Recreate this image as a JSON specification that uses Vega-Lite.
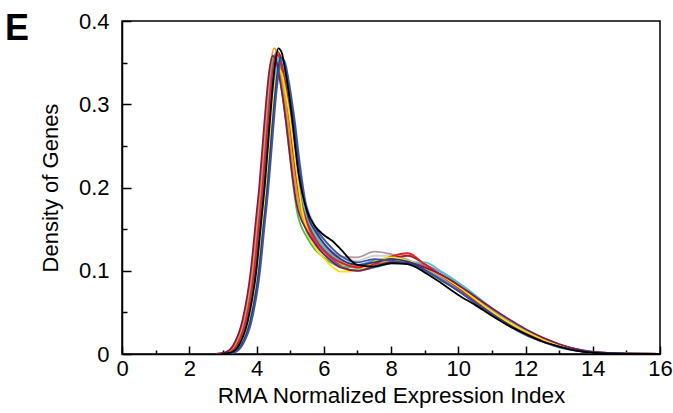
{
  "$schema": "https://vega.github.io/schema/vega-lite/v6.json",
  "width": 538,
  "height": 333,
  "autosize": {"type": "none"},
  "padding": {"left": 122, "top": 21, "right": 13, "bottom": 59},
  "background": "white",
  "config": {
    "view": {"stroke": "black", "strokeWidth": 1.5},
    "font": "Liberation Sans"
  },
  "title": {"text": "E", "anchor": "start", "frame": "group", "fontSize": 36, "fontWeight": "bold", "font": "Liberation Sans", "color": "black", "dx": -117, "dy": 66, "baseline": "alphabetic", "offset": 0},
  "data": {"values": [
    {"s":"j","x":3.0,"y":0},{"s":"j","x":3.3,"y":0.002},{"s":"j","x":3.55,"y":0.012},{"s":"j","x":3.8,"y":0.039},{"s":"j","x":4.05,"y":0.098},{"s":"j","x":4.2,"y":0.157},{"s":"j","x":4.3,"y":0.196},{"s":"j","x":4.4,"y":0.245},{"s":"j","x":4.5,"y":0.294},{"s":"j","x":4.6,"y":0.333},{"s":"j","x":4.7,"y":0.353},{"s":"j","x":4.8,"y":0.348},{"s":"j","x":4.9,"y":0.33},{"s":"j","x":5.0,"y":0.306},{"s":"j","x":5.1,"y":0.278},{"s":"j","x":5.2,"y":0.245},{"s":"j","x":5.3,"y":0.214},{"s":"j","x":5.4,"y":0.19},
    {"s":"j","x":5.5,"y":0.177},{"s":"j","x":5.75,"y":0.153},{"s":"j","x":6,"y":0.137},{"s":"j","x":6.25,"y":0.126},{"s":"j","x":6.5,"y":0.118},{"s":"j","x":7,"y":0.112},{"s":"j","x":7.5,"y":0.118},{"s":"j","x":8,"y":0.118},{"s":"j","x":8.5,"y":0.112},{"s":"j","x":9,"y":0.102},{"s":"j","x":9.5,"y":0.09},{"s":"j","x":10,"y":0.077},{"s":"j","x":10.5,"y":0.063},{"s":"j","x":11,"y":0.049},{"s":"j","x":11.5,"y":0.036},{"s":"j","x":12,"y":0.025},{"s":"j","x":12.5,"y":0.016},{"s":"j","x":13,"y":0.009},{"s":"j","x":13.5,"y":0.0045},{"s":"j","x":14,"y":0.0018},{"s":"j","x":15,"y":0.0003},{"s":"j","x":16,"y":0},

    {"s":"n","x":2.9,"y":0},{"s":"n","x":3.2,"y":0.002},{"s":"n","x":3.45,"y":0.012},{"s":"n","x":3.7,"y":0.04},{"s":"n","x":3.95,"y":0.101},{"s":"n","x":4.1,"y":0.162},{"s":"n","x":4.2,"y":0.202},{"s":"n","x":4.3,"y":0.253},{"s":"n","x":4.4,"y":0.303},{"s":"n","x":4.5,"y":0.343},{"s":"n","x":4.6,"y":0.364},{"s":"n","x":4.7,"y":0.358},{"s":"n","x":4.8,"y":0.338},{"s":"n","x":4.9,"y":0.313},{"s":"n","x":5.0,"y":0.283},{"s":"n","x":5.1,"y":0.247},{"s":"n","x":5.2,"y":0.215},{"s":"n","x":5.3,"y":0.189},
    {"s":"n","x":5.5,"y":0.164},{"s":"n","x":5.75,"y":0.145},{"s":"n","x":6,"y":0.131},{"s":"n","x":6.25,"y":0.121},{"s":"n","x":6.5,"y":0.113},{"s":"n","x":7,"y":0.105},{"s":"n","x":7.5,"y":0.107},{"s":"n","x":8,"y":0.111},{"s":"n","x":8.5,"y":0.11},{"s":"n","x":9,"y":0.102},{"s":"n","x":9.5,"y":0.091},{"s":"n","x":10,"y":0.078},{"s":"n","x":10.5,"y":0.063},{"s":"n","x":11,"y":0.049},{"s":"n","x":11.5,"y":0.036},{"s":"n","x":12,"y":0.025},{"s":"n","x":12.5,"y":0.016},{"s":"n","x":13,"y":0.009},{"s":"n","x":13.5,"y":0.0045},{"s":"n","x":14,"y":0.0018},{"s":"n","x":15,"y":0.0003},{"s":"n","x":16,"y":0},

    {"s":"o","x":2.84,"y":0},{"s":"o","x":3.14,"y":0.002},{"s":"o","x":3.39,"y":0.012},{"s":"o","x":3.64,"y":0.039},{"s":"o","x":3.89,"y":0.098},{"s":"o","x":4.04,"y":0.157},{"s":"o","x":4.14,"y":0.196},{"s":"o","x":4.24,"y":0.245},{"s":"o","x":4.34,"y":0.294},{"s":"o","x":4.44,"y":0.333},{"s":"o","x":4.54,"y":0.353},{"s":"o","x":4.64,"y":0.348},{"s":"o","x":4.74,"y":0.328},{"s":"o","x":4.84,"y":0.304},{"s":"o","x":4.94,"y":0.274},{"s":"o","x":5.04,"y":0.24},{"s":"o","x":5.14,"y":0.209},{"s":"o","x":5.24,"y":0.183},
    {"s":"o","x":5.5,"y":0.153},{"s":"o","x":5.75,"y":0.136},{"s":"o","x":6,"y":0.125},{"s":"o","x":6.25,"y":0.117},{"s":"o","x":6.5,"y":0.111},{"s":"o","x":7,"y":0.107},{"s":"o","x":7.5,"y":0.112},{"s":"o","x":8,"y":0.114},{"s":"o","x":8.5,"y":0.11},{"s":"o","x":9,"y":0.102},{"s":"o","x":9.5,"y":0.092},{"s":"o","x":10,"y":0.08},{"s":"o","x":10.5,"y":0.066},{"s":"o","x":11,"y":0.052},{"s":"o","x":11.5,"y":0.039},{"s":"o","x":12,"y":0.028},{"s":"o","x":12.5,"y":0.018},{"s":"o","x":13,"y":0.011},{"s":"o","x":13.5,"y":0.0055},{"s":"o","x":14,"y":0.0022},{"s":"o","x":15,"y":0.0003},{"s":"o","x":16,"y":0},

    {"s":"q","x":2.86,"y":0},{"s":"q","x":3.16,"y":0.002},{"s":"q","x":3.41,"y":0.012},{"s":"q","x":3.66,"y":0.04},{"s":"q","x":3.91,"y":0.1},{"s":"q","x":4.06,"y":0.16},{"s":"q","x":4.16,"y":0.2},{"s":"q","x":4.26,"y":0.25},{"s":"q","x":4.36,"y":0.3},{"s":"q","x":4.46,"y":0.34},{"s":"q","x":4.56,"y":0.36},{"s":"q","x":4.66,"y":0.354},{"s":"q","x":4.76,"y":0.333},{"s":"q","x":4.86,"y":0.307},{"s":"q","x":4.96,"y":0.276},{"s":"q","x":5.06,"y":0.24},{"s":"q","x":5.16,"y":0.207},{"s":"q","x":5.26,"y":0.18},
    {"s":"q","x":5.5,"y":0.146},{"s":"q","x":5.75,"y":0.13},{"s":"q","x":6,"y":0.12},{"s":"q","x":6.25,"y":0.113},{"s":"q","x":6.5,"y":0.108},{"s":"q","x":7,"y":0.106},{"s":"q","x":7.5,"y":0.11},{"s":"q","x":8,"y":0.114},{"s":"q","x":8.5,"y":0.112},{"s":"q","x":9,"y":0.104},{"s":"q","x":9.5,"y":0.093},{"s":"q","x":10,"y":0.08},{"s":"q","x":10.5,"y":0.066},{"s":"q","x":11,"y":0.052},{"s":"q","x":11.5,"y":0.039},{"s":"q","x":12,"y":0.028},{"s":"q","x":12.5,"y":0.019},{"s":"q","x":13,"y":0.011},{"s":"q","x":13.5,"y":0.006},{"s":"q","x":14,"y":0.0024},{"s":"q","x":15,"y":0.0004},{"s":"q","x":16,"y":0},

    {"s":"l","x":2.85,"y":0},{"s":"l","x":3.15,"y":0.002},{"s":"l","x":3.4,"y":0.012},{"s":"l","x":3.65,"y":0.04},{"s":"l","x":3.9,"y":0.1},{"s":"l","x":4.05,"y":0.16},{"s":"l","x":4.15,"y":0.2},{"s":"l","x":4.25,"y":0.25},{"s":"l","x":4.35,"y":0.3},{"s":"l","x":4.45,"y":0.34},{"s":"l","x":4.55,"y":0.36},{"s":"l","x":4.65,"y":0.355},{"s":"l","x":4.75,"y":0.335},{"s":"l","x":4.85,"y":0.31},{"s":"l","x":4.95,"y":0.28},{"s":"l","x":5.05,"y":0.245},{"s":"l","x":5.15,"y":0.213},{"s":"l","x":5.25,"y":0.187},
    {"s":"l","x":5.5,"y":0.152},{"s":"l","x":5.75,"y":0.135},{"s":"l","x":6,"y":0.124},{"s":"l","x":6.25,"y":0.116},{"s":"l","x":6.5,"y":0.11},{"s":"l","x":7,"y":0.106},{"s":"l","x":7.5,"y":0.111},{"s":"l","x":8,"y":0.115},{"s":"l","x":8.5,"y":0.112},{"s":"l","x":9,"y":0.103},{"s":"l","x":9.5,"y":0.092},{"s":"l","x":10,"y":0.079},{"s":"l","x":10.5,"y":0.065},{"s":"l","x":11,"y":0.051},{"s":"l","x":11.5,"y":0.038},{"s":"l","x":12,"y":0.027},{"s":"l","x":12.5,"y":0.018},{"s":"l","x":13,"y":0.01},{"s":"l","x":13.5,"y":0.005},{"s":"l","x":14,"y":0.002},{"s":"l","x":15,"y":0.0003},{"s":"l","x":16,"y":0},

    {"s":"m","x":2.94,"y":0},{"s":"m","x":3.24,"y":0.002},{"s":"m","x":3.49,"y":0.012},{"s":"m","x":3.74,"y":0.039},{"s":"m","x":3.99,"y":0.098},{"s":"m","x":4.14,"y":0.158},{"s":"m","x":4.24,"y":0.197},{"s":"m","x":4.34,"y":0.246},{"s":"m","x":4.44,"y":0.296},{"s":"m","x":4.54,"y":0.335},{"s":"m","x":4.64,"y":0.355},{"s":"m","x":4.74,"y":0.35},{"s":"m","x":4.84,"y":0.33},{"s":"m","x":4.94,"y":0.305},{"s":"m","x":5.04,"y":0.276},{"s":"m","x":5.14,"y":0.241},{"s":"m","x":5.24,"y":0.21},{"s":"m","x":5.34,"y":0.185},
    {"s":"m","x":5.5,"y":0.16},{"s":"m","x":5.75,"y":0.142},{"s":"m","x":6,"y":0.129},{"s":"m","x":6.25,"y":0.12},{"s":"m","x":6.5,"y":0.113},{"s":"m","x":7,"y":0.105},{"s":"m","x":7.5,"y":0.106},{"s":"m","x":8,"y":0.11},{"s":"m","x":8.5,"y":0.111},{"s":"m","x":9,"y":0.107},{"s":"m","x":9.5,"y":0.098},{"s":"m","x":10,"y":0.084},{"s":"m","x":10.5,"y":0.068},{"s":"m","x":11,"y":0.052},{"s":"m","x":11.5,"y":0.038},{"s":"m","x":12,"y":0.027},{"s":"m","x":12.5,"y":0.018},{"s":"m","x":13,"y":0.01},{"s":"m","x":13.5,"y":0.005},{"s":"m","x":14,"y":0.002},{"s":"m","x":15,"y":0.0003},{"s":"m","x":16,"y":0},

    {"s":"k","x":2.92,"y":0},{"s":"k","x":3.22,"y":0.002},{"s":"k","x":3.47,"y":0.012},{"s":"k","x":3.72,"y":0.04},{"s":"k","x":3.97,"y":0.099},{"s":"k","x":4.12,"y":0.158},{"s":"k","x":4.22,"y":0.198},{"s":"k","x":4.32,"y":0.248},{"s":"k","x":4.42,"y":0.297},{"s":"k","x":4.52,"y":0.337},{"s":"k","x":4.62,"y":0.356},{"s":"k","x":4.72,"y":0.351},{"s":"k","x":4.82,"y":0.332},{"s":"k","x":4.92,"y":0.307},{"s":"k","x":5.02,"y":0.277},{"s":"k","x":5.12,"y":0.243},{"s":"k","x":5.22,"y":0.211},{"s":"k","x":5.32,"y":0.186},
    {"s":"k","x":5.5,"y":0.163},{"s":"k","x":5.75,"y":0.144},{"s":"k","x":6,"y":0.132},{"s":"k","x":6.25,"y":0.123},{"s":"k","x":6.5,"y":0.117},{"s":"k","x":7,"y":0.116},{"s":"k","x":7.5,"y":0.123},{"s":"k","x":8,"y":0.12},{"s":"k","x":8.5,"y":0.113},{"s":"k","x":9,"y":0.103},{"s":"k","x":9.5,"y":0.091},{"s":"k","x":10,"y":0.078},{"s":"k","x":10.5,"y":0.063},{"s":"k","x":11,"y":0.049},{"s":"k","x":11.5,"y":0.036},{"s":"k","x":12,"y":0.025},{"s":"k","x":12.5,"y":0.016},{"s":"k","x":13,"y":0.009},{"s":"k","x":13.5,"y":0.0045},{"s":"k","x":14,"y":0.0018},{"s":"k","x":15,"y":0.0003},{"s":"k","x":16,"y":0},

    {"s":"g","x":2.88,"y":0},{"s":"g","x":3.18,"y":0.002},{"s":"g","x":3.43,"y":0.012},{"s":"g","x":3.68,"y":0.04},{"s":"g","x":3.93,"y":0.1},{"s":"g","x":4.08,"y":0.16},{"s":"g","x":4.18,"y":0.2},{"s":"g","x":4.28,"y":0.25},{"s":"g","x":4.38,"y":0.3},{"s":"g","x":4.48,"y":0.34},{"s":"g","x":4.58,"y":0.36},{"s":"g","x":4.68,"y":0.355},{"s":"g","x":4.78,"y":0.335},{"s":"g","x":4.88,"y":0.31},{"s":"g","x":4.98,"y":0.28},{"s":"g","x":5.08,"y":0.245},{"s":"g","x":5.18,"y":0.213},{"s":"g","x":5.28,"y":0.185},
    {"s":"g","x":5.5,"y":0.155},{"s":"g","x":5.75,"y":0.136},{"s":"g","x":6,"y":0.124},{"s":"g","x":6.25,"y":0.114},{"s":"g","x":6.5,"y":0.106},{"s":"g","x":7,"y":0.1},{"s":"g","x":7.5,"y":0.104},{"s":"g","x":8,"y":0.11},{"s":"g","x":8.5,"y":0.109},{"s":"g","x":9,"y":0.105},{"s":"g","x":9.5,"y":0.095},{"s":"g","x":10,"y":0.081},{"s":"g","x":10.5,"y":0.066},{"s":"g","x":11,"y":0.051},{"s":"g","x":11.5,"y":0.038},{"s":"g","x":12,"y":0.027},{"s":"g","x":12.5,"y":0.018},{"s":"g","x":13,"y":0.011},{"s":"g","x":13.5,"y":0.006},{"s":"g","x":14,"y":0.0025},{"s":"g","x":15,"y":0.0004},{"s":"g","x":16,"y":0},

    {"s":"i","x":2.8,"y":0},{"s":"i","x":3.1,"y":0.002},{"s":"i","x":3.35,"y":0.012},{"s":"i","x":3.6,"y":0.04},{"s":"i","x":3.85,"y":0.099},{"s":"i","x":4.0,"y":0.158},{"s":"i","x":4.1,"y":0.198},{"s":"i","x":4.2,"y":0.248},{"s":"i","x":4.3,"y":0.297},{"s":"i","x":4.4,"y":0.337},{"s":"i","x":4.5,"y":0.356},{"s":"i","x":4.6,"y":0.35},{"s":"i","x":4.7,"y":0.33},{"s":"i","x":4.8,"y":0.303},{"s":"i","x":4.9,"y":0.27},{"s":"i","x":5.0,"y":0.235},{"s":"i","x":5.1,"y":0.2},{"s":"i","x":5.2,"y":0.172},
    {"s":"i","x":5.5,"y":0.14},{"s":"i","x":5.75,"y":0.125},{"s":"i","x":6,"y":0.116},{"s":"i","x":6.25,"y":0.109},{"s":"i","x":6.5,"y":0.105},{"s":"i","x":7,"y":0.104},{"s":"i","x":7.5,"y":0.109},{"s":"i","x":8,"y":0.112},{"s":"i","x":8.5,"y":0.11},{"s":"i","x":9,"y":0.1},{"s":"i","x":9.5,"y":0.088},{"s":"i","x":10,"y":0.076},{"s":"i","x":10.5,"y":0.062},{"s":"i","x":11,"y":0.049},{"s":"i","x":11.5,"y":0.036},{"s":"i","x":12,"y":0.025},{"s":"i","x":12.5,"y":0.017},{"s":"i","x":13,"y":0.01},{"s":"i","x":13.5,"y":0.005},{"s":"i","x":14,"y":0.002},{"s":"i","x":15,"y":0.0003},{"s":"i","x":16,"y":0},

    {"s":"r","x":2.92,"y":0},{"s":"r","x":3.22,"y":0.002},{"s":"r","x":3.47,"y":0.012},{"s":"r","x":3.72,"y":0.04},{"s":"r","x":3.97,"y":0.1},{"s":"r","x":4.12,"y":0.161},{"s":"r","x":4.22,"y":0.201},{"s":"r","x":4.32,"y":0.251},{"s":"r","x":4.42,"y":0.301},{"s":"r","x":4.52,"y":0.342},{"s":"r","x":4.62,"y":0.362},{"s":"r","x":4.72,"y":0.357},{"s":"r","x":4.82,"y":0.337},{"s":"r","x":4.92,"y":0.312},{"s":"r","x":5.02,"y":0.282},{"s":"r","x":5.12,"y":0.247},{"s":"r","x":5.22,"y":0.215},{"s":"r","x":5.32,"y":0.189},
    {"s":"r","x":5.5,"y":0.16},{"s":"r","x":5.75,"y":0.14},{"s":"r","x":6,"y":0.127},{"s":"r","x":6.25,"y":0.118},{"s":"r","x":6.5,"y":0.111},{"s":"r","x":7,"y":0.105},{"s":"r","x":7.5,"y":0.109},{"s":"r","x":8,"y":0.115},{"s":"r","x":8.5,"y":0.118},{"s":"r","x":9,"y":0.108},{"s":"r","x":9.5,"y":0.094},{"s":"r","x":10,"y":0.08},{"s":"r","x":10.5,"y":0.065},{"s":"r","x":11,"y":0.05},{"s":"r","x":11.5,"y":0.037},{"s":"r","x":12,"y":0.026},{"s":"r","x":12.5,"y":0.017},{"s":"r","x":13,"y":0.01},{"s":"r","x":13.5,"y":0.005},{"s":"r","x":14,"y":0.002},{"s":"r","x":15,"y":0.0003},{"s":"r","x":16,"y":0},

    {"s":"e","x":2.82,"y":0},{"s":"e","x":3.12,"y":0.002},{"s":"e","x":3.37,"y":0.012},{"s":"e","x":3.62,"y":0.041},{"s":"e","x":3.87,"y":0.102},{"s":"e","x":4.02,"y":0.163},{"s":"e","x":4.12,"y":0.204},{"s":"e","x":4.22,"y":0.255},{"s":"e","x":4.32,"y":0.306},{"s":"e","x":4.42,"y":0.347},{"s":"e","x":4.52,"y":0.367},{"s":"e","x":4.62,"y":0.362},{"s":"e","x":4.72,"y":0.342},{"s":"e","x":4.82,"y":0.316},{"s":"e","x":4.92,"y":0.286},{"s":"e","x":5.02,"y":0.25},{"s":"e","x":5.12,"y":0.217},{"s":"e","x":5.22,"y":0.19},
    {"s":"e","x":5.5,"y":0.155},{"s":"e","x":5.75,"y":0.138},{"s":"e","x":6,"y":0.126},{"s":"e","x":6.25,"y":0.118},{"s":"e","x":6.5,"y":0.112},{"s":"e","x":7,"y":0.106},{"s":"e","x":7.5,"y":0.109},{"s":"e","x":8,"y":0.112},{"s":"e","x":8.5,"y":0.111},{"s":"e","x":9,"y":0.104},{"s":"e","x":9.5,"y":0.094},{"s":"e","x":10,"y":0.083},{"s":"e","x":10.5,"y":0.069},{"s":"e","x":11,"y":0.055},{"s":"e","x":11.5,"y":0.041},{"s":"e","x":12,"y":0.029},{"s":"e","x":12.5,"y":0.019},{"s":"e","x":13,"y":0.011},{"s":"e","x":13.5,"y":0.005},{"s":"e","x":14,"y":0.002},{"s":"e","x":15,"y":0.0003},{"s":"e","x":16,"y":0},

    {"s":"f","x":2.98,"y":0},{"s":"f","x":3.28,"y":0.002},{"s":"f","x":3.53,"y":0.012},{"s":"f","x":3.78,"y":0.04},{"s":"f","x":4.03,"y":0.099},{"s":"f","x":4.18,"y":0.158},{"s":"f","x":4.28,"y":0.198},{"s":"f","x":4.38,"y":0.248},{"s":"f","x":4.48,"y":0.297},{"s":"f","x":4.58,"y":0.337},{"s":"f","x":4.68,"y":0.356},{"s":"f","x":4.78,"y":0.351},{"s":"f","x":4.88,"y":0.332},{"s":"f","x":4.98,"y":0.307},{"s":"f","x":5.08,"y":0.277},{"s":"f","x":5.18,"y":0.243},{"s":"f","x":5.28,"y":0.211},{"s":"f","x":5.38,"y":0.183},
    {"s":"f","x":5.5,"y":0.165},{"s":"f","x":5.75,"y":0.143},{"s":"f","x":6,"y":0.128},{"s":"f","x":6.25,"y":0.118},{"s":"f","x":6.5,"y":0.111},{"s":"f","x":7,"y":0.103},{"s":"f","x":7.5,"y":0.104},{"s":"f","x":8,"y":0.109},{"s":"f","x":8.5,"y":0.11},{"s":"f","x":9,"y":0.11},{"s":"f","x":9.5,"y":0.099},{"s":"f","x":10,"y":0.086},{"s":"f","x":10.5,"y":0.071},{"s":"f","x":11,"y":0.055},{"s":"f","x":11.5,"y":0.041},{"s":"f","x":12,"y":0.029},{"s":"f","x":12.5,"y":0.019},{"s":"f","x":13,"y":0.011},{"s":"f","x":13.5,"y":0.005},{"s":"f","x":14,"y":0.002},{"s":"f","x":15,"y":0.0003},{"s":"f","x":16,"y":0},

    {"s":"c","x":2.9,"y":0},{"s":"c","x":3.2,"y":0.002},{"s":"c","x":3.45,"y":0.012},{"s":"c","x":3.7,"y":0.04},{"s":"c","x":3.95,"y":0.1},{"s":"c","x":4.1,"y":0.16},{"s":"c","x":4.2,"y":0.2},{"s":"c","x":4.3,"y":0.25},{"s":"c","x":4.4,"y":0.3},{"s":"c","x":4.5,"y":0.34},{"s":"c","x":4.6,"y":0.36},{"s":"c","x":4.7,"y":0.355},{"s":"c","x":4.8,"y":0.335},{"s":"c","x":4.9,"y":0.31},{"s":"c","x":5.0,"y":0.28},{"s":"c","x":5.1,"y":0.245},{"s":"c","x":5.2,"y":0.213},{"s":"c","x":5.3,"y":0.187},
    {"s":"c","x":5.5,"y":0.158},{"s":"c","x":5.75,"y":0.138},{"s":"c","x":6,"y":0.125},{"s":"c","x":6.25,"y":0.116},{"s":"c","x":6.5,"y":0.11},{"s":"c","x":7,"y":0.104},{"s":"c","x":7.5,"y":0.108},{"s":"c","x":8,"y":0.117},{"s":"c","x":8.5,"y":0.121},{"s":"c","x":9,"y":0.108},{"s":"c","x":9.5,"y":0.094},{"s":"c","x":10,"y":0.08},{"s":"c","x":10.5,"y":0.065},{"s":"c","x":11,"y":0.05},{"s":"c","x":11.5,"y":0.037},{"s":"c","x":12,"y":0.026},{"s":"c","x":12.5,"y":0.017},{"s":"c","x":13,"y":0.01},{"s":"c","x":13.5,"y":0.005},{"s":"c","x":14,"y":0.002},{"s":"c","x":15,"y":0.0003},{"s":"c","x":16,"y":0},

    {"s":"d","x":2.95,"y":0},{"s":"d","x":3.25,"y":0.002},{"s":"d","x":3.5,"y":0.011},{"s":"d","x":3.75,"y":0.038},{"s":"d","x":4.0,"y":0.095},{"s":"d","x":4.15,"y":0.152},{"s":"d","x":4.25,"y":0.19},{"s":"d","x":4.35,"y":0.238},{"s":"d","x":4.45,"y":0.285},{"s":"d","x":4.55,"y":0.323},{"s":"d","x":4.65,"y":0.342},{"s":"d","x":4.75,"y":0.337},{"s":"d","x":4.85,"y":0.318},{"s":"d","x":4.95,"y":0.295},{"s":"d","x":5.05,"y":0.266},{"s":"d","x":5.15,"y":0.233},{"s":"d","x":5.25,"y":0.202},{"s":"d","x":5.35,"y":0.175},
    {"s":"d","x":5.5,"y":0.15},{"s":"d","x":5.75,"y":0.128},{"s":"d","x":6,"y":0.115},{"s":"d","x":6.25,"y":0.105},{"s":"d","x":6.5,"y":0.099},{"s":"d","x":7,"y":0.1},{"s":"d","x":7.5,"y":0.111},{"s":"d","x":8,"y":0.116},{"s":"d","x":8.5,"y":0.112},{"s":"d","x":9,"y":0.104},{"s":"d","x":9.5,"y":0.094},{"s":"d","x":10,"y":0.081},{"s":"d","x":10.5,"y":0.066},{"s":"d","x":11,"y":0.051},{"s":"d","x":11.5,"y":0.038},{"s":"d","x":12,"y":0.027},{"s":"d","x":12.5,"y":0.018},{"s":"d","x":13,"y":0.01},{"s":"d","x":13.5,"y":0.005},{"s":"d","x":14,"y":0.002},{"s":"d","x":15,"y":0.0003},{"s":"d","x":16,"y":0},

    {"s":"h","x":2.78,"y":0},{"s":"h","x":3.08,"y":0.002},{"s":"h","x":3.33,"y":0.012},{"s":"h","x":3.58,"y":0.04},{"s":"h","x":3.83,"y":0.1},{"s":"h","x":3.98,"y":0.16},{"s":"h","x":4.08,"y":0.2},{"s":"h","x":4.18,"y":0.25},{"s":"h","x":4.28,"y":0.3},{"s":"h","x":4.38,"y":0.34},{"s":"h","x":4.48,"y":0.358},{"s":"h","x":4.58,"y":0.353},{"s":"h","x":4.68,"y":0.333},{"s":"h","x":4.78,"y":0.308},{"s":"h","x":4.88,"y":0.278},{"s":"h","x":4.98,"y":0.243},{"s":"h","x":5.08,"y":0.21},{"s":"h","x":5.18,"y":0.183},
    {"s":"h","x":5.5,"y":0.148},{"s":"h","x":5.75,"y":0.132},{"s":"h","x":6,"y":0.12},{"s":"h","x":6.25,"y":0.111},{"s":"h","x":6.5,"y":0.104},{"s":"h","x":7,"y":0.1},{"s":"h","x":7.5,"y":0.105},{"s":"h","x":8,"y":0.11},{"s":"h","x":8.5,"y":0.11},{"s":"h","x":9,"y":0.104},{"s":"h","x":9.5,"y":0.095},{"s":"h","x":10,"y":0.083},{"s":"h","x":10.5,"y":0.069},{"s":"h","x":11,"y":0.055},{"s":"h","x":11.5,"y":0.042},{"s":"h","x":12,"y":0.03},{"s":"h","x":12.5,"y":0.02},{"s":"h","x":13,"y":0.012},{"s":"h","x":13.5,"y":0.006},{"s":"h","x":14,"y":0.0025},{"s":"h","x":15,"y":0.0004},{"s":"h","x":16,"y":0},

    {"s":"p","x":3.02,"y":0},{"s":"p","x":3.32,"y":0.002},{"s":"p","x":3.57,"y":0.012},{"s":"p","x":3.82,"y":0.04},{"s":"p","x":4.07,"y":0.099},{"s":"p","x":4.22,"y":0.158},{"s":"p","x":4.32,"y":0.198},{"s":"p","x":4.42,"y":0.248},{"s":"p","x":4.52,"y":0.297},{"s":"p","x":4.62,"y":0.337},{"s":"p","x":4.72,"y":0.356},{"s":"p","x":4.82,"y":0.351},{"s":"p","x":4.92,"y":0.332},{"s":"p","x":5.02,"y":0.307},{"s":"p","x":5.12,"y":0.277},{"s":"p","x":5.22,"y":0.243},{"s":"p","x":5.32,"y":0.211},{"s":"p","x":5.42,"y":0.186},
    {"s":"p","x":5.5,"y":0.17},{"s":"p","x":5.75,"y":0.148},{"s":"p","x":6,"y":0.133},{"s":"p","x":6.25,"y":0.122},{"s":"p","x":6.5,"y":0.114},{"s":"p","x":7,"y":0.107},{"s":"p","x":7.5,"y":0.11},{"s":"p","x":8,"y":0.114},{"s":"p","x":8.5,"y":0.111},{"s":"p","x":9,"y":0.101},{"s":"p","x":9.5,"y":0.089},{"s":"p","x":10,"y":0.076},{"s":"p","x":10.5,"y":0.062},{"s":"p","x":11,"y":0.048},{"s":"p","x":11.5,"y":0.035},{"s":"p","x":12,"y":0.024},{"s":"p","x":12.5,"y":0.015},{"s":"p","x":13,"y":0.009},{"s":"p","x":13.5,"y":0.0045},{"s":"p","x":14,"y":0.0018},{"s":"p","x":15,"y":0.0003},{"s":"p","x":16,"y":0},

    {"s":"b","x":3.05,"y":0},{"s":"b","x":3.35,"y":0.002},{"s":"b","x":3.6,"y":0.012},{"s":"b","x":3.85,"y":0.039},{"s":"b","x":4.1,"y":0.098},{"s":"b","x":4.25,"y":0.158},{"s":"b","x":4.35,"y":0.197},{"s":"b","x":4.45,"y":0.246},{"s":"b","x":4.55,"y":0.296},{"s":"b","x":4.65,"y":0.335},{"s":"b","x":4.75,"y":0.355},{"s":"b","x":4.85,"y":0.35},{"s":"b","x":4.95,"y":0.33},{"s":"b","x":5.05,"y":0.305},{"s":"b","x":5.15,"y":0.276},{"s":"b","x":5.25,"y":0.241},{"s":"b","x":5.35,"y":0.21},{"s":"b","x":5.45,"y":0.184},
    {"s":"b","x":5.5,"y":0.175},{"s":"b","x":5.75,"y":0.152},{"s":"b","x":6,"y":0.138},{"s":"b","x":6.25,"y":0.127},{"s":"b","x":6.5,"y":0.118},{"s":"b","x":7,"y":0.11},{"s":"b","x":7.5,"y":0.114},{"s":"b","x":8,"y":0.112},{"s":"b","x":8.5,"y":0.108},{"s":"b","x":9,"y":0.1},{"s":"b","x":9.5,"y":0.089},{"s":"b","x":10,"y":0.076},{"s":"b","x":10.5,"y":0.061},{"s":"b","x":11,"y":0.047},{"s":"b","x":11.5,"y":0.034},{"s":"b","x":12,"y":0.023},{"s":"b","x":12.5,"y":0.015},{"s":"b","x":13,"y":0.008},{"s":"b","x":13.5,"y":0.004},{"s":"b","x":14,"y":0.0015},{"s":"b","x":15,"y":0.0002},{"s":"b","x":16,"y":0},

    {"s":"a","x":2.95,"y":0},{"s":"a","x":3.25,"y":0.002},{"s":"a","x":3.5,"y":0.012},{"s":"a","x":3.75,"y":0.041},{"s":"a","x":4.0,"y":0.102},{"s":"a","x":4.15,"y":0.163},{"s":"a","x":4.25,"y":0.204},{"s":"a","x":4.35,"y":0.255},{"s":"a","x":4.45,"y":0.306},{"s":"a","x":4.55,"y":0.347},{"s":"a","x":4.65,"y":0.367},{"s":"a","x":4.75,"y":0.362},{"s":"a","x":4.85,"y":0.342},{"s":"a","x":4.95,"y":0.316},{"s":"a","x":5.05,"y":0.286},{"s":"a","x":5.15,"y":0.25},{"s":"a","x":5.25,"y":0.217},{"s":"a","x":5.35,"y":0.195},
    {"s":"a","x":5.5,"y":0.172},{"s":"a","x":5.75,"y":0.153},{"s":"a","x":6,"y":0.143},{"s":"a","x":6.25,"y":0.136},{"s":"a","x":6.5,"y":0.126},{"s":"a","x":7,"y":0.107},{"s":"a","x":7.5,"y":0.105},{"s":"a","x":8,"y":0.109},{"s":"a","x":8.5,"y":0.108},{"s":"a","x":9,"y":0.098},{"s":"a","x":9.5,"y":0.085},{"s":"a","x":10,"y":0.071},{"s":"a","x":10.5,"y":0.059},{"s":"a","x":11,"y":0.046},{"s":"a","x":11.5,"y":0.034},{"s":"a","x":12,"y":0.024},{"s":"a","x":12.5,"y":0.015},{"s":"a","x":13,"y":0.009},{"s":"a","x":13.5,"y":0.004},{"s":"a","x":14,"y":0.0015},{"s":"a","x":15,"y":0.0002},{"s":"a","x":16,"y":0}
  ]},
  "mark": {"type": "line", "interpolate": "monotone", "strokeWidth": 1.8, "clip": true},
  "encoding": {
    "x": {
      "field": "x", "type": "quantitative",
      "scale": {"domain": [0, 16], "nice": false, "zero": false},
      "axis": {
        "title": "RMA Normalized Expression Index",
        "values": [0,1,2,3,4,5,6,7,8,9,10,11,12,13,14,15,16],
        "labelExpr": "datum.value % 2 === 0 ? datum.label : ''",
        "tickSize": {"condition": {"test": "datum.value % 2 === 0", "value": -8}, "value": -4},
        "tickColor": "black", "tickWidth": 1.5,
        "domainColor": "black", "domainWidth": 1.5,
        "grid": false,
        "labelFont": "Liberation Sans", "labelFontSize": 22, "labelColor": "black", "labelPadding": 12,
        "labelFlush": false, "labelOverlap": false,
        "titleFont": "Liberation Sans", "titleFontSize": 22.5, "titleFontWeight": "normal", "titleColor": "black", "titlePadding": 1
      }
    },
    "y": {
      "field": "y", "type": "quantitative",
      "scale": {"domain": [0, 0.4], "nice": false},
      "axis": {
        "title": "Density of Genes",
        "values": [0,0.05,0.1,0.15,0.2,0.25,0.3,0.35,0.4],
        "labelExpr": "round(datum.value*20) % 2 === 0 ? format(datum.value, '.1~f') : ''",
        "tickSize": {"condition": {"test": "round(datum.value*20) % 2 === 0", "value": -9}, "value": -5},
        "tickColor": "black", "tickWidth": 1.5,
        "domainColor": "black", "domainWidth": 1.5,
        "grid": false,
        "labelFont": "Liberation Sans", "labelFontSize": 22, "labelColor": "black", "labelPadding": 22,
        "labelFlush": false, "labelOverlap": false,
        "titleFont": "Liberation Sans", "titleFontSize": 22, "titleFontWeight": "normal", "titleColor": "black", "titlePadding": 16
      }
    },
    "color": {
      "field": "s", "type": "nominal", "legend": null,
      "scale": {
        "domain": ["a","b","c","d","e","f","g","h","i","j","k","l","m","n","o","p","q","r"],
        "range": ["#000000","#3a55a5","#e31e24","#f2e31a","#f7941d","#4ec3c8","#7e4f9f","#7d1d4f","#58b947","#d2d2d2","#b5979e","#d9589c","#9c8ec8","#6d6e71","#3b9bd6","#27378a","#9dc93b","#a31f34"]
      }
    }
  }
}
